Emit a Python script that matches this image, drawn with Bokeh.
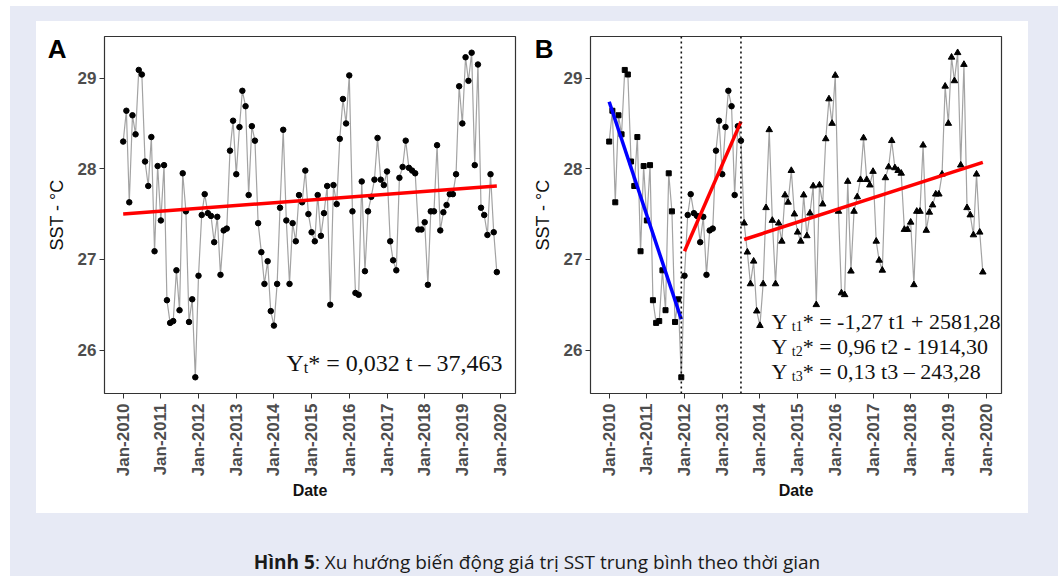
import numpy as np
import pandas as pd
from bokeh.plotting import figure
from bokeh.models import (Range1d, FixedTicker, DatetimeTickFormatter, Label, Span,
                          Div, Spacer, ColumnDataSource, LinearAxis)
from bokeh.layouts import column, row
from bokeh.embed import file_html
from bokeh.resources import INLINE

# ---------------- data (monthly mean SST, Jan 2010 - Dec 2019) ----------------
first_month = "2010-01-01"
sst = [
    28.30, 28.64, 27.63, 28.59, 28.38, 29.09, 29.04, 28.08, 27.81, 28.35, 27.09, 28.03,
    27.43, 28.04, 26.55, 26.30, 26.32, 26.88, 26.44, 27.95, 27.53, 26.31, 26.56, 25.70,
    26.82, 27.49, 27.72, 27.51, 27.48, 27.19, 27.47, 26.83, 27.32, 27.34, 28.20, 28.53,
    27.94, 28.46, 28.86, 28.69, 27.71, 28.47, 28.31, 27.40, 27.08, 26.73, 26.98, 26.43,
    26.27, 26.73, 27.57, 28.43, 27.43, 26.73, 27.40, 27.20, 27.71, 27.63, 27.98, 27.50,
    27.30, 27.20, 27.71, 27.26, 27.51, 27.81, 26.50, 27.82, 27.61, 28.33, 28.77, 28.50,
    29.03, 27.53, 26.63, 26.61, 27.86, 26.87, 27.53, 27.69, 27.88, 28.34, 27.88, 27.82,
    27.97, 27.20, 26.99, 26.88, 27.90, 28.02, 28.31, 28.01, 27.98, 27.95, 27.33, 27.33,
    27.41, 26.72, 27.53, 27.53, 28.26, 27.32, 27.52, 27.60, 27.72, 27.72, 27.94, 28.91,
    28.50, 29.23, 28.97, 29.28, 28.04, 29.15, 27.57, 27.49, 27.27, 27.94, 27.30, 26.86,
]
tick_years = [2010, 2011, 2012, 2013, 2014, 2015, 2016, 2017, 2018, 2019, 2020]
y_ticks = [26, 27, 28, 29]

# trend line of panel A (start / end values)
trend_a_dates = ["2010-01-01", "2019-12-01"]
trend_a_vals = [27.50, 27.81]

# panel B: breakpoints and three segment trends
breaks = ["2011-12-01", "2013-07-01"]
seg1_dates = ["2010-01-01", "2011-12-01"]
seg1_vals = [28.74, 26.34]
seg2_dates = ["2012-01-01", "2013-07-01"]
seg2_vals = [27.09, 28.52]
seg3_dates = ["2013-08-01", "2019-12-01"]
seg3_vals = [27.22, 28.07]

panel_names = ["A", "B"]
eq_a = ["Y", "t", "* = 0,032 t \u2013 37,463"]
eq_b = [
    ["Y", "t1", "* = -1,27 t1 + 2581,28"],
    ["Y", "t2", "* = 0,96 t2 - 1914,30"],
    ["Y", "t3", "* = 0,13 t3 \u2013 243,28"],
]
caption_bold = "Hình 5"
caption_rest = ": Xu hướng biến động giá trị SST trung bình theo thời gian"

# ---------------- helpers ----------------
def ms(d):
    return pd.Timestamp(d).value / 1e6

dates = pd.date_range(first_month, periods=len(sst), freq="MS")
t_ms = np.array([ms(d) for d in dates])
tick_ms = [ms(f"{y}-01-01") for y in tick_years]

x_pad = 0.05 * (t_ms[-1] - t_ms[0])
y_lo = min(sst) - 0.05 * (max(sst) - min(sst))
y_hi = max(sst) + 0.05 * (max(sst) - min(sst))
PANEL_LABEL_Y = y_hi - 0.035 * (y_hi - y_lo)   # height of the A / B tag

LAV = "#e7eaf5"
AX_TXT = "#4d4d4d"
FMT = "%b-%Y"


def make_fig(width, left, right):
    p = figure(width=width, height=492, x_axis_type="datetime",
               x_range=Range1d(t_ms[0] - x_pad, t_ms[-1] + x_pad),
               y_range=Range1d(y_lo, y_hi),
               output_backend="svg", toolbar_location=None,
               min_border_left=left, min_border_right=right,
               min_border_top=15, min_border_bottom=120,
               background_fill_color="white", border_fill_color="white",
               outline_line_color="#333333", outline_line_width=1.2)
    p.xgrid.visible = False
    p.ygrid.visible = False
    xa = p.xaxis[0]
    xa.ticker = FixedTicker(ticks=tick_ms)
    xa.formatter = DatetimeTickFormatter(
        microseconds=FMT, milliseconds=FMT, seconds=FMT, minsec=FMT, minutes=FMT,
        hourmin=FMT, hours=FMT, days=FMT, months=FMT, years=FMT)
    xa.major_label_orientation = np.pi / 2
    xa.axis_label = "Date"
    xa.axis_label_text_font_style = "bold"
    xa.axis_label_text_font_size = "16px"
    xa.axis_label_standoff = 3
    ya = p.yaxis[0]
    ya.ticker = FixedTicker(ticks=y_ticks)
    ya.axis_label = "SST - \u00b0C"
    ya.axis_label_text_font_style = "normal"
    ya.axis_label_text_font_size = "18px"
    ya.axis_label_standoff = 8
    for ax in (xa, ya):
        ax.axis_line_color = None
        ax.major_tick_line_color = "#333333"
        ax.major_tick_out = 5
        ax.major_tick_in = 0
        ax.minor_tick_out = 0
        ax.minor_tick_in = 0
        ax.major_label_text_font = "Liberation Sans"
        ax.major_label_text_font_size = "17px"
        ax.major_label_text_font_style = "bold"
        ax.major_label_text_color = AX_TXT
        ax.axis_label_text_font = "Liberation Sans"
        ax.axis_label_text_color = "#111111"
    ya.major_label_standoff = 3
    xa.major_label_standoff = 5
    return p


def add_eq(p, parts, x, y, size, sub_size):
    big, sub, rest = parts
    w_big = 0.722 * size
    p.add_layout(Label(x=x, y=y, x_units="screen", y_units="screen", text=big,
                       text_font="Liberation Serif", text_font_size=f"{size}px",
                       text_baseline="alphabetic", text_color="#111111"))
    sx = x + w_big + (0.0 if len(sub) == 1 else 0.2 * size)
    p.add_layout(Label(x=sx, y=y - 0.22 * size, x_units="screen", y_units="screen", text=sub,
                       text_font="Liberation Serif", text_font_size=f"{sub_size}px",
                       text_baseline="alphabetic", text_color="#111111"))
    w_sub = (0.278 + 0.5 * (len(sub) - 1)) * sub_size
    p.add_layout(Label(x=sx + w_sub, y=y, x_units="screen", y_units="screen", text=rest,
                       text_font="Liberation Serif", text_font_size=f"{size}px",
                       text_baseline="alphabetic", text_color="#111111"))


def panel_tag(p, txt, standoff):
    # an extra, otherwise empty left axis whose single label is the panel tag
    ax = LinearAxis(ticker=FixedTicker(ticks=[PANEL_LABEL_Y]),
                    major_label_overrides={PANEL_LABEL_Y: txt},
                    axis_line_color=None, major_tick_line_color=None,
                    minor_tick_line_color=None, major_tick_out=0, major_tick_in=0,
                    minor_tick_out=0, minor_tick_in=0,
                    major_label_standoff=standoff,
                    major_label_text_font="Liberation Sans",
                    major_label_text_font_size="26px",
                    major_label_text_font_style="bold",
                    major_label_text_color="#000000")
    p.add_layout(ax, "left")


src = ColumnDataSource(data=dict(t=t_ms, v=sst))

# ---------------- panel A ----------------
pa = make_fig(491, 68, 12)
pa.line("t", "v", source=src, line_color="#a3a3a3", line_width=1.2)
pa.scatter("t", "v", source=src, marker="circle", size=5.5, fill_color="black",
           line_color="black")
pa.line([ms(d) for d in trend_a_dates], trend_a_vals, line_color="#ff0000", line_width=3.5)
panel_tag(pa, panel_names[0], -23)
add_eq(pa, eq_a, 182, 31, 24, 16)

# ---------------- panel B ----------------
pb = make_fig(501, 63, 27)
pb.line("t", "v", source=src, line_color="#a3a3a3", line_width=1.2)
b1, b2 = ms(breaks[0]), ms(breaks[1])
m1 = t_ms <= b1
m2 = (t_ms > b1) & (t_ms <= b2)
m3 = t_ms > b2
sst_arr = np.array(sst)
pb.scatter(t_ms[m1], sst_arr[m1], marker="square", size=5, fill_color="black", line_color="black")
pb.scatter(t_ms[m2], sst_arr[m2], marker="circle", size=5.5, fill_color="black", line_color="black")
pb.scatter(t_ms[m3], sst_arr[m3], marker="triangle", size=6.5, fill_color="black", line_color="black")
for b in (b1, b2):
    pb.add_layout(Span(location=b, dimension="height", line_color="#111111",
                       line_width=1.6, line_dash="2 3"))
pb.line([ms(d) for d in seg1_dates], seg1_vals, line_color="#0000ff", line_width=3.5)
pb.line([ms(d) for d in seg2_dates], seg2_vals, line_color="#ff0000", line_width=3.5)
pb.line([ms(d) for d in seg3_dates], seg3_vals, line_color="#ff0000", line_width=3.5)
panel_tag(pb, panel_names[1], -24)
for i, parts in enumerate(eq_b):
    add_eq(pb, parts, 181, 72 - 25 * i, 22, 14)

# ---------------- caption & layout ----------------
cap = Div(text=f"<b>{caption_bold}</b>{caption_rest}", width=992, height=20,
          styles={"text-align": "center", "font-family": "'Open Sans', sans-serif",
                  "font-size": "19px", "line-height": "19px", "color": "#1a1a1a",
                  "width": "992px", "white-space": "nowrap"})

panels = row(pa, pb, styles={"background-color": "white"})

inner = column(
    Spacer(width=1040, height=15),
    row(Spacer(width=26, height=492), panels, Spacer(width=22, height=492)),
    Spacer(width=1040, height=35),
    row(Spacer(width=26, height=20), cap, Spacer(width=22, height=20)),
    styles={"background-color": LAV},
)
layout = column(
    Spacer(width=1050, height=6),
    row(Spacer(width=10, height=562), inner),
    styles={"background-color": "white"},
)

open("out.html", "w").write(file_html(layout, INLINE))
